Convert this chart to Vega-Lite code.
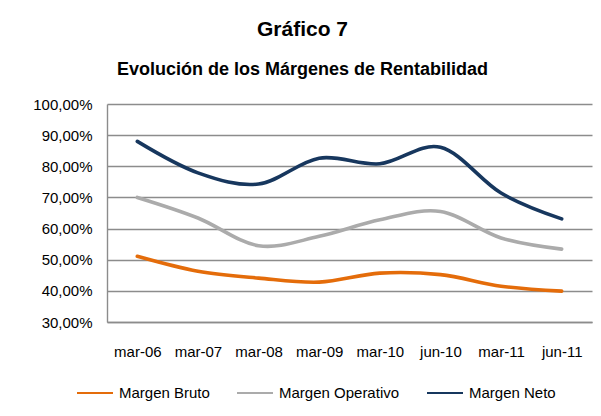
{
  "$schema": "https://vega.github.io/schema/vega-lite/v6.json",
  "width": 485,
  "height": 218,
  "autosize": {"type": "none"},
  "padding": {"left": 107, "top": 104, "right": 9, "bottom": 94},
  "background": "white",
  "title": {
    "text": "Gráfico 7",
    "subtitle": "Evolución de los Márgenes de Rentabilidad",
    "anchor": "middle",
    "dx": -47,
    "font": "Liberation Sans",
    "fontSize": 21,
    "fontWeight": "bold",
    "color": "#000000",
    "subtitleFont": "Liberation Sans",
    "subtitleFontSize": 18,
    "subtitleFontWeight": "bold",
    "subtitleColor": "#000000",
    "subtitlePadding": 21,
    "offset": 18
  },
  "data": {
    "values": [
      {"periodo": "mar-06", "serie": "Margen Bruto", "valor": 0.511},
      {"periodo": "mar-07", "serie": "Margen Bruto", "valor": 0.463},
      {"periodo": "mar-08", "serie": "Margen Bruto", "valor": 0.441},
      {"periodo": "mar-09", "serie": "Margen Bruto", "valor": 0.428},
      {"periodo": "mar-10", "serie": "Margen Bruto", "valor": 0.457},
      {"periodo": "jun-10", "serie": "Margen Bruto", "valor": 0.452},
      {"periodo": "mar-11", "serie": "Margen Bruto", "valor": 0.415},
      {"periodo": "jun-11", "serie": "Margen Bruto", "valor": 0.399},
      {"periodo": "mar-06", "serie": "Margen Operativo", "valor": 0.700},
      {"periodo": "mar-07", "serie": "Margen Operativo", "valor": 0.634},
      {"periodo": "mar-08", "serie": "Margen Operativo", "valor": 0.545},
      {"periodo": "mar-09", "serie": "Margen Operativo", "valor": 0.575},
      {"periodo": "mar-10", "serie": "Margen Operativo", "valor": 0.628},
      {"periodo": "jun-10", "serie": "Margen Operativo", "valor": 0.655},
      {"periodo": "mar-11", "serie": "Margen Operativo", "valor": 0.570},
      {"periodo": "jun-11", "serie": "Margen Operativo", "valor": 0.534},
      {"periodo": "mar-06", "serie": "Margen Neto", "valor": 0.880},
      {"periodo": "mar-07", "serie": "Margen Neto", "valor": 0.779},
      {"periodo": "mar-08", "serie": "Margen Neto", "valor": 0.743},
      {"periodo": "mar-09", "serie": "Margen Neto", "valor": 0.826},
      {"periodo": "mar-10", "serie": "Margen Neto", "valor": 0.808},
      {"periodo": "jun-10", "serie": "Margen Neto", "valor": 0.861},
      {"periodo": "mar-11", "serie": "Margen Neto", "valor": 0.714},
      {"periodo": "jun-11", "serie": "Margen Neto", "valor": 0.631}
    ]
  },
  "mark": {"type": "line", "interpolate": "cardinal", "tension": 0, "strokeWidth": 3.6, "strokeCap": "round"},
  "encoding": {
    "x": {
      "field": "periodo",
      "type": "ordinal",
      "sort": null,
      "scale": {"type": "point", "padding": 0.5},
      "axis": {
        "title": null,
        "labelAngle": 0,
        "labelFont": "Liberation Sans",
        "labelFontSize": 15,
        "labelColor": "#000000",
        "labelPadding": 22,
        "ticks": false,
        "domain": true,
        "domainColor": "#8C8C8C",
        "domainWidth": 1.4,
        "grid": false
      }
    },
    "y": {
      "field": "valor",
      "type": "quantitative",
      "scale": {"domain": [0.3, 1.0], "nice": false, "zero": false},
      "axis": {
        "title": null,
        "values": [0.3, 0.4, 0.5, 0.6, 0.7, 0.8, 0.9, 1.0],
        "labelExpr": "replace(format(datum.value, '.2%'), '.', ',')",
        "labelFont": "Liberation Sans",
        "labelFontSize": 15,
        "labelColor": "#000000",
        "labelPadding": 15,
        "ticks": false,
        "domain": true,
        "domainColor": "#8C8C8C",
        "domainWidth": 1.4,
        "grid": true,
        "gridColor": "#8C8C8C",
        "gridWidth": 1.4
      }
    },
    "color": {
      "field": "serie",
      "type": "nominal",
      "scale": {
        "domain": ["Margen Bruto", "Margen Operativo", "Margen Neto"],
        "range": ["#E46C0A", "#ABABAB", "#17375E"]
      },
      "legend": {
        "title": null,
        "orient": "none",
        "direction": "horizontal",
        "legendX": -31,
        "legendY": 270,
        "padding": 0,
        "symbolType": "stroke",
        "symbolSize": 1296,
        "symbolStrokeWidth": 2,
        "labelFont": "Liberation Sans",
        "labelFontSize": 15,
        "labelColor": "#000000",
        "labelOffset": 5,
        "labelLimit": 300,
        "columnPadding": 23
      }
    }
  },
  "config": {"view": {"stroke": null}}
}
